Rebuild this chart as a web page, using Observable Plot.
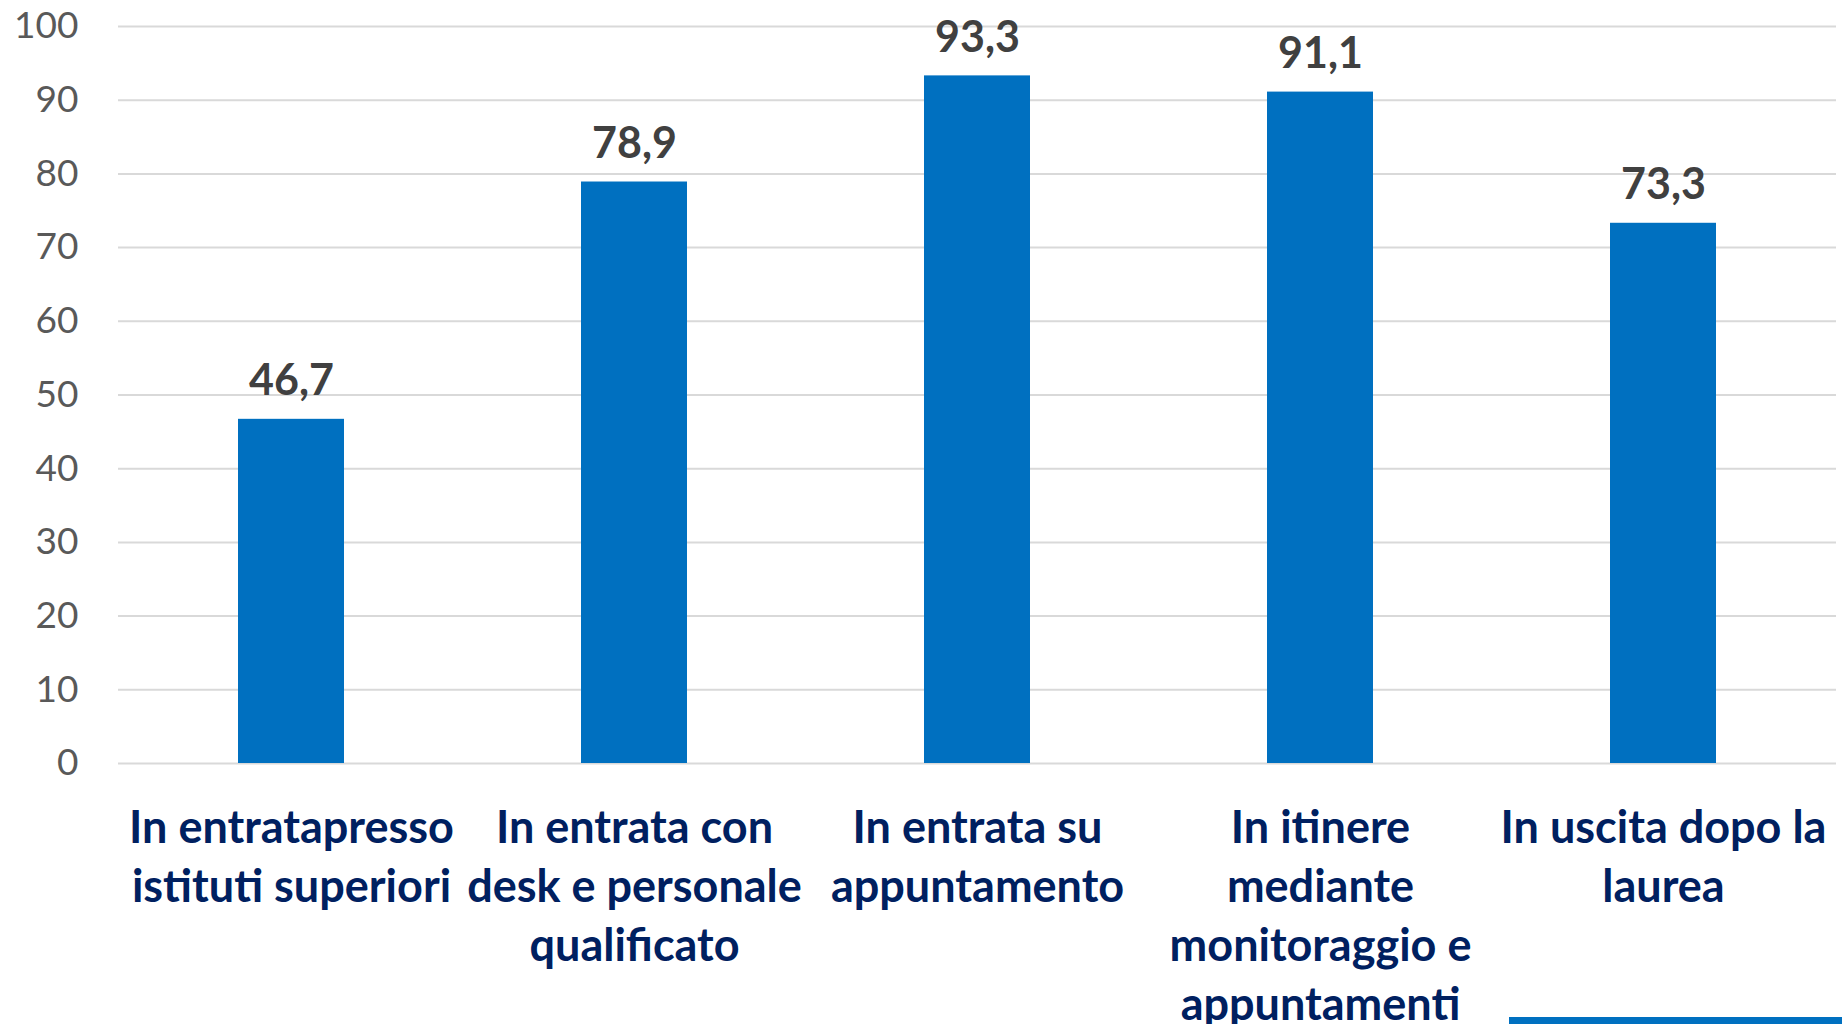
<!DOCTYPE html>
<html>
<head>
<meta charset="utf-8">
<script src="https://cdn.jsdelivr.net/npm/d3@7"></script>
<script src="https://cdn.jsdelivr.net/npm/@observablehq/plot@0.6"></script>
<style>
  html, body { margin: 0; padding: 0; background: #fff; }
  #wrap { position: relative; width: 1842px; height: 1024px; overflow: hidden; }
  #accent { position: absolute; left: 1509px; top: 1017px; width: 333px; height: 7px; background: #0070C0; }
</style>
</head>
<body>
<div id="wrap"><div id="chart"></div><div id="accent"></div></div>
<script>
const categories = [
  "In entratapresso istituti superiori",
  "In entrata con desk e personale qualificato",
  "In entrata su appuntamento",
  "In itinere mediante monitoraggio e appuntamenti",
  "In uscita dopo la laurea"
];
const categoryLabels = [
  "In entratapresso\nistituti superiori",
  "In entrata con\ndesk e personale\nqualificato",
  "In entrata su\nappuntamento",
  "In itinere\nmediante\nmonitoraggio e\nappuntamenti",
  "In uscita dopo la\nlaurea"
];
const values = [46.7, 78.9, 93.3, 91.1, 73.3];
const yTicks = [0, 10, 20, 30, 40, 50, 60, 70, 80, 90, 100];

const data = categories.map((c, i) => ({category: c, value: values[i]}));
const labelOf = new Map(categories.map((c, i) => [c, categoryLabels[i]]));
const fmt = v => String(v).replace(".", ",");

const chart = Plot.plot({
  width: 1842,
  height: 1024,
  marginLeft: 118,
  marginRight: 6,
  marginTop: 26,
  marginBottom: 261,
  style: {fontFamily: "Lato, 'Open Sans', sans-serif", background: "#fff"},
  x: {domain: categories, paddingInner: 0.69, paddingOuter: 0.345},
  y: {domain: [0, 100]},
  marks: [
    Plot.gridY(yTicks, {stroke: "#d9d9d9", strokeOpacity: 1, strokeWidth: 2}),
    Plot.barY(data, {x: "category", y: "value", fill: "#0070C0"}),
    Plot.text(data, {
      x: "category", y: "value", text: d => fmt(d.value),
      dy: -24, lineAnchor: "bottom", fontSize: 43, fontWeight: "bold", fill: "#404040"
    }),
    Plot.axisY({
      ticks: yTicks, tickSize: 0, tickPadding: 40, fontSize: 37, fill: "#595959", label: null
    }),
    Plot.axisX({
      tickSize: 0, tickPadding: 38, fontSize: 45, fontWeight: "bold", fill: "#002060",
      lineHeight: 1.31, label: null, tickFormat: d => labelOf.get(d)
    })
  ]
});
document.getElementById("chart").appendChild(chart);
</script>
</body>
</html>
